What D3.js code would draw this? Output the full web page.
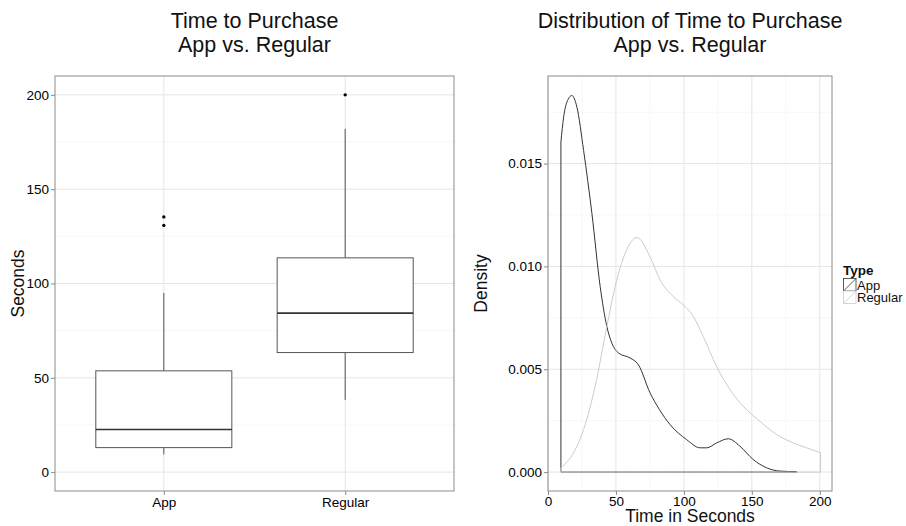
<!DOCTYPE html>
<html lang="en">
<head>
<meta charset="utf-8">
<title>Time to Purchase</title>
<script src="https://d3js.org/d3.v7.min.js"></script>
<style>
  body { margin: 0; background: #fff; }
  svg text { font-family: "Liberation Sans", Arial, sans-serif; }
</style>
</head>
<body>
<script>
// box plot stats
const boxCats = ["App", "Regular"];
const boxLower = [9.4, 38.3];
const boxQ1 = [13.0, 63.4];
const boxMedian = [22.6, 84.3];
const boxQ3 = [53.7, 113.6];
const boxUpper = [95.0, 182.0];
const outlierCat = ["App", "App", "Regular"];
const outlierVal = [135.3, 130.8, 200];

// density curves
const appX = [9.5, 11.5, 13.9, 17.6, 21.3, 26.2, 32.3, 38.4, 43.3, 47, 51.9, 60.4, 66.5, 75.1, 82, 89.8, 102, 111.9, 116.8, 124.2, 132.7, 141.2, 151, 160.8, 170.6, 183];
const appY = [0.01605, 0.01726, 0.01799, 0.01831, 0.01774, 0.01564, 0.01258, 0.00902, 0.00708, 0.00627, 0.00579, 0.00555, 0.00522, 0.00385, 0.00304, 0.00231, 0.00158, 0.00118, 0.00118, 0.00142, 0.00162, 0.00126, 0.00061, 0.00021, 0.00005, 0.00002];
const regX = [9.5, 18.8, 26.2, 34.7, 43.3, 49.4, 56.8, 65.4, 75.1, 82.5, 92.3, 99.6, 107, 114.3, 124, 133.9, 143.7, 155.9, 168.2, 180.4, 190.2, 200.6];
const regY = [0.00021, 0.00094, 0.00207, 0.00417, 0.00708, 0.00902, 0.01064, 0.01141, 0.01047, 0.00934, 0.00853, 0.00813, 0.00756, 0.00659, 0.00514, 0.00401, 0.0032, 0.00247, 0.00183, 0.00142, 0.00118, 0.00094];

const seriesNames = ["App", "Regular"];
const seriesColors = ["#333333", "#cccccc"];

const yTicksL = [0, 50, 100, 150, 200];
const yMinorL = [25, 75, 125, 175];
const xTicksR = [0, 50, 100, 150, 200];
const xMinorR = [25, 75, 125, 175];
const yTicksR = [0, 0.005, 0.010, 0.015];
const yMinorR = [0.0025, 0.0075, 0.0125, 0.0175];

const W = 906, H = 526;
const svg = d3.select("body").append("svg").attr("width", W).attr("height", H);
svg.append("rect").attr("width", W).attr("height", H).attr("fill", "#fff");

const pTop = 76, pBottom = 491;
const L = { x0: 55, x1: 454 };
const R = { x0: 548, x1: 832 };

const gridMajor = "#e5e5e5", gridMinor = "#f7f7f7", border = "#8c8c8c";
const tickCol = "#8c8c8c", textCol = "#000";

function title(cx, lines) {
  const t = svg.append("text").attr("text-anchor", "middle").attr("font-size", 21.5).attr("fill", "#111");
  lines.forEach((s, i) => t.append("tspan").attr("x", cx).attr("y", 28 + i * 24).text(s));
}

// ---------- left: box plot ----------
const xL = d3.scalePoint().domain(boxCats).range([L.x0, L.x1]).padding(0.6);
const yL = d3.scaleLinear().domain([-10, 210]).range([pBottom, pTop]);
const step = xL.step();
const bw = step * 0.75;

const gL = svg.append("g");
gL.selectAll(".mn").data(yMinorL).enter().append("line")
  .attr("x1", L.x0).attr("x2", L.x1).attr("y1", d => yL(d)).attr("y2", d => yL(d))
  .attr("stroke", gridMinor).attr("stroke-width", 1);
gL.selectAll(".mj").data(yTicksL).enter().append("line")
  .attr("x1", L.x0).attr("x2", L.x1).attr("y1", d => yL(d)).attr("y2", d => yL(d))
  .attr("stroke", gridMajor).attr("stroke-width", 1);
gL.selectAll(".vx").data(boxCats).enter().append("line")
  .attr("x1", d => xL(d)).attr("x2", d => xL(d)).attr("y1", pTop).attr("y2", pBottom)
  .attr("stroke", gridMajor).attr("stroke-width", 1);

boxCats.forEach((c, i) => {
  const cx = xL(c);
  gL.append("line").attr("x1", cx).attr("x2", cx).attr("y1", yL(boxQ3[i])).attr("y2", yL(boxUpper[i]))
    .attr("stroke", "#555").attr("stroke-width", 1);
  gL.append("line").attr("x1", cx).attr("x2", cx).attr("y1", yL(boxQ1[i])).attr("y2", yL(boxLower[i]))
    .attr("stroke", "#555").attr("stroke-width", 1);
  gL.append("rect").attr("x", cx - bw / 2).attr("y", yL(boxQ3[i]))
    .attr("width", bw).attr("height", yL(boxQ1[i]) - yL(boxQ3[i]))
    .attr("fill", "#fff").attr("stroke", "#555").attr("stroke-width", 1);
  gL.append("line").attr("x1", cx - bw / 2).attr("x2", cx + bw / 2)
    .attr("y1", yL(boxMedian[i])).attr("y2", yL(boxMedian[i]))
    .attr("stroke", "#333").attr("stroke-width", 1.6);
});
gL.selectAll(".out").data(outlierVal).enter().append("circle")
  .attr("cx", (d, i) => xL(outlierCat[i])).attr("cy", d => yL(d)).attr("r", 1.7).attr("fill", "#000");

gL.append("rect").attr("x", L.x0).attr("y", pTop).attr("width", L.x1 - L.x0).attr("height", pBottom - pTop)
  .attr("fill", "none").attr("stroke", border).attr("stroke-width", 1);

const axL = gL.append("g").attr("transform", `translate(${L.x0},0)`)
  .call(d3.axisLeft(yL).tickValues(yTicksL).tickSize(4).tickPadding(2).tickFormat(d3.format("d")));
const axLB = gL.append("g").attr("transform", `translate(0,${pBottom})`)
  .call(d3.axisBottom(xL).tickSize(4).tickPadding(2));
[axL, axLB].forEach(a => {
  a.select(".domain").remove();
  a.selectAll(".tick line").attr("stroke", tickCol);
  a.selectAll(".tick text").attr("font-size", 13.5).attr("fill", textCol)
    .attr("font-family", "Liberation Sans, Arial, sans-serif");
});

svg.append("text").attr("transform", `translate(24,${(pTop + pBottom) / 2}) rotate(-90)`)
  .attr("text-anchor", "middle").attr("font-size", 17.5).attr("fill", "#111").text("Seconds");
title((L.x0 + L.x1) / 2, ["Time to Purchase", "App vs. Regular"]);

// ---------- right: density ----------
const xR = d3.scaleLinear().domain([0, 209]).range([R.x0, R.x1]);
const yR = d3.scaleLinear().domain([-0.00092, 0.01926]).range([pBottom, pTop]);

const gR = svg.append("g");
gR.selectAll(".mnx").data(xMinorR).enter().append("line")
  .attr("x1", d => xR(d)).attr("x2", d => xR(d)).attr("y1", pTop).attr("y2", pBottom)
  .attr("stroke", gridMinor);
gR.selectAll(".mny").data(yMinorR).enter().append("line")
  .attr("x1", R.x0).attr("x2", R.x1).attr("y1", d => yR(d)).attr("y2", d => yR(d))
  .attr("stroke", gridMinor);
gR.selectAll(".mjx").data(xTicksR).enter().append("line")
  .attr("x1", d => xR(d)).attr("x2", d => xR(d)).attr("y1", pTop).attr("y2", pBottom)
  .attr("stroke", gridMajor);
gR.selectAll(".mjy").data(yTicksR).enter().append("line")
  .attr("x1", R.x0).attr("x2", R.x1).attr("y1", d => yR(d)).attr("y2", d => yR(d))
  .attr("stroke", gridMajor);

const area = d3.area()
  .x(d => xR(d[0])).y0(yR(0)).y1(d => yR(d[1]))
  .curve(d3.curveMonotoneX);
const dens = [appX.map((x, i) => [x, appY[i]]), regX.map((x, i) => [x, regY[i]])];
gR.selectAll(".dens").data(dens).enter().append("path")
  .attr("d", area).attr("fill", "none")
  .attr("stroke", (d, i) => seriesColors[i]).attr("stroke-width", 1);

gR.append("rect").attr("x", R.x0).attr("y", pTop).attr("width", R.x1 - R.x0).attr("height", pBottom - pTop)
  .attr("fill", "none").attr("stroke", border).attr("stroke-width", 1);

const axR = gR.append("g").attr("transform", `translate(${R.x0},0)`)
  .call(d3.axisLeft(yR).tickValues(yTicksR).tickSize(4).tickPadding(2).tickFormat(d3.format(".3f")));
const axRB = gR.append("g").attr("transform", `translate(0,${pBottom})`)
  .call(d3.axisBottom(xR).tickValues(xTicksR).tickSize(4).tickPadding(1).tickFormat(d3.format("d")));
[axR, axRB].forEach(a => {
  a.select(".domain").remove();
  a.selectAll(".tick line").attr("stroke", tickCol);
  a.selectAll(".tick text").attr("font-size", 13.5).attr("fill", textCol)
    .attr("font-family", "Liberation Sans, Arial, sans-serif");
});

svg.append("text").attr("transform", `translate(487,${(pTop + pBottom) / 2}) rotate(-90)`)
  .attr("text-anchor", "middle").attr("font-size", 17.5).attr("fill", "#111").text("Density");
svg.append("text").attr("x", (R.x0 + R.x1) / 2).attr("y", 522)
  .attr("text-anchor", "middle").attr("font-size", 17.5).attr("fill", "#111").text("Time in Seconds");
title((R.x0 + R.x1) / 2, ["Distribution of Time to Purchase", "App vs. Regular"]);

// legend
const lg = svg.append("g").attr("transform", "translate(843,0)");
lg.append("text").attr("x", 0).attr("y", 275).attr("font-size", 13.5).attr("font-weight", "bold")
  .attr("fill", "#111").text("Type");
const key = 12.5;
seriesNames.forEach((s, i) => {
  const y0 = 278.5 + i * key;
  lg.append("rect").attr("x", 0.5).attr("y", y0).attr("width", key).attr("height", key)
    .attr("fill", "#fff").attr("stroke", seriesColors[i]).attr("stroke-width", 0.8);
  lg.append("line").attr("x1", 0.5).attr("y1", y0 + key).attr("x2", 0.5 + key).attr("y2", y0)
    .attr("stroke", seriesColors[i]).attr("stroke-width", 0.8);
  lg.append("text").attr("x", key + 1.5).attr("y", y0 + key - 1.5).attr("font-size", 13)
    .attr("fill", "#111").text(s);
});
</script>
</body>
</html>
